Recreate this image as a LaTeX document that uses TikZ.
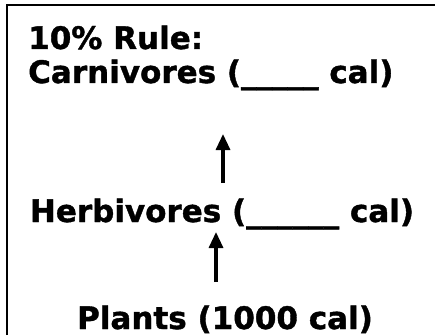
\documentclass[tikz,border=0pt]{standalone}
\usepackage{fontspec}
\setmainfont{DejaVu Sans}[BoldFeatures={FakeBold=1.2}]
\usetikzlibrary{arrows.meta,positioning}
\tikzset{
	txt/.style = { font=\fontsize{31}{36}\selectfont\bfseries, anchor=base west, inner sep=0pt },
	arrow/.style = { line width=3.2pt, color=black, -{Triangle[length=16pt,width=14pt]} },
	frame/.style = { line width=2pt, color=black },
}

\begin{document}
\begin{tikzpicture}[x=1pt,y=1pt]
\useasboundingbox (0,0) rectangle (435,335);
% outer frame, only top and left edge show
\draw[frame] (6.5,0) -- (6.5,329.5) -- (435,329.5);

\node[txt] (rule)   at (28,286) {10\% Rule:};
\node[txt] (carn)   at (28,252) {Carnivores (\_\_\_\_\_ cal)};
\node[txt, anchor=base] (herb)   at (222,113) {Herbivores (\_\_\_\_\_\_ cal)};
\node[txt, anchor=base] (plants) at (225,6) {Plants (1000 cal)};

\coordinate (up1a) at (223,152);
\coordinate (up1b) at (223,201);
\coordinate (up2a) at (216,53);
\coordinate (up2b) at (216,103);

\draw[arrow] (up1a) -- (up1b);
\draw[arrow] (up2a) -- (up2b);
\end{tikzpicture}
\end{document}
